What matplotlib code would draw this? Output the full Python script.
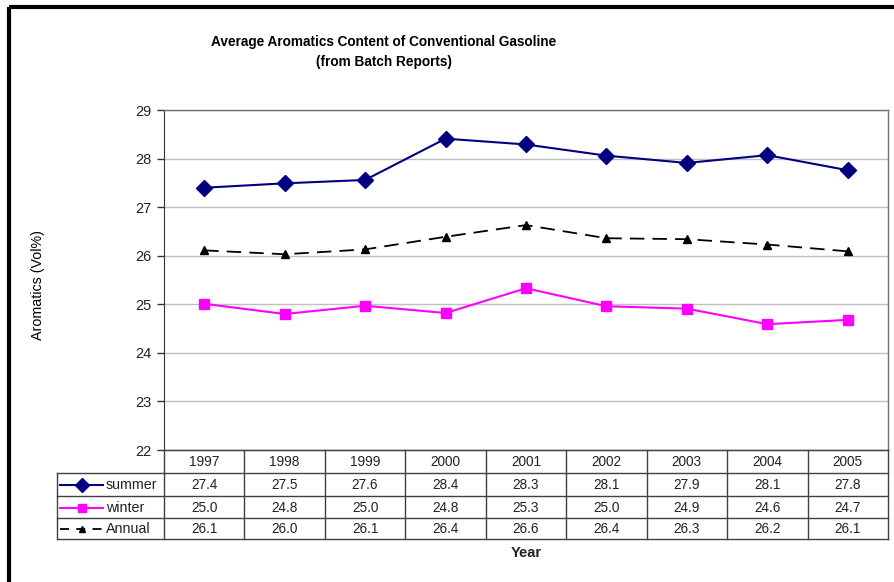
import matplotlib
matplotlib.use("Agg")
import matplotlib.pyplot as plt
from matplotlib.patches import Rectangle

# ---------------- data ----------------
years = ["1997", "1998", "1999", "2000", "2001", "2002", "2003", "2004", "2005"]
summer = [27.40, 27.49, 27.56, 28.41, 28.29, 28.06, 27.91, 28.07, 27.76]
winter = [25.01, 24.80, 24.97, 24.82, 25.33, 24.96, 24.91, 24.59, 24.68]
annual = [26.11, 26.03, 26.13, 26.39, 26.63, 26.36, 26.34, 26.23, 26.09]
series_names = ["summer", "winter", "Annual"]
y_ticks = [22, 23, 24, 25, 26, 27, 28, 29]

title = "Average Aromatics Content of Conventional Gasoline\n(from Batch Reports)"
y_label = "Aromatics (Vol%)"
x_label = "Year"

# ---------------- styles ----------------
FONT = ["Liberation Sans", "Arial", "DejaVu Sans"]
plt.rcParams["font.family"] = FONT

W, H = 894, 582
DPI = 100
styles = [
    dict(color="#000080", marker="D", ms=8, ls="-", lw=1.5),
    dict(color="#FF00FF", marker="s", ms=7.5, ls="-", lw=1.5),
    dict(color="#000000", marker="^", ms=5.5, ls=(0, (8, 4.5)), lw=1.3),
]

fig = plt.figure(figsize=(W / DPI, H / DPI), dpi=DPI)
fig.patch.set_facecolor("white")

# plot area in pixel coordinates
L, R, T, B = 164, 888, 110, 450
ax = fig.add_axes([L / W, 1 - B / H, (R - L) / W, (B - T) / H])
ax.set_facecolor("white")

xs = list(range(len(years)))
for vals, st in zip([summer, winter, annual], styles):
    ax.plot(xs, vals, color=st["color"], marker=st["marker"], markersize=st["ms"],
            linestyle=st["ls"], linewidth=st["lw"], markerfacecolor=st["color"],
            markeredgecolor=st["color"], zorder=3, clip_on=False)

ax.set_xlim(-0.5, len(years) - 0.5)
ax.set_ylim(min(y_ticks), max(y_ticks))
ax.set_yticks(y_ticks)
ax.set_yticklabels([str(t) for t in y_ticks], fontsize=10.5, color="#222222")
ax.set_xticks([])
ax.grid(axis="y", color="#c0c0c0", linewidth=1)
ax.set_axisbelow(True)
ax.tick_params(axis="y", direction="out", length=5, width=1, color="#333333", pad=4)
for side in ["top", "right"]:
    ax.spines[side].set_color("#707070")
    ax.spines[side].set_linewidth(1)
ax.spines["left"].set_color("#333333")
ax.spines["bottom"].set_color("#333333")

# overlay in pixel coordinates for table, titles and frame
ov = fig.add_axes([0, 0, 1, 1], facecolor="none")
ov.set_xlim(0, W)
ov.set_ylim(H, 0)
ov.axis("off")

# chart frame (thick black border)
ov.add_patch(Rectangle((9, 7), W + 20, H + 20, fill=False, edgecolor="black",
                       linewidth=3, clip_on=False))

# title
ov.text(384, 52, title, ha="center", va="center", fontsize=9.8, fontweight="bold",
        linespacing=1.6, color="black")
# y label
ov.text(38, 285, y_label, ha="center", va="center", rotation=90, fontsize=10.3, color="black")

# data table
col_w = (R - L) / len(years)
row_edges = [B, 473, 496, 518, 539]
legend_left = 57
lc = "#404040"
tw = 1.0
ov.plot([L, R], [row_edges[0], row_edges[0]], color=lc, lw=tw)
ov.plot([L, R], [row_edges[1], row_edges[1]], color=lc, lw=tw)
for yy in row_edges[2:]:
    ov.plot([legend_left, R], [yy, yy], color=lc, lw=tw)
ov.plot([legend_left, L], [row_edges[1], row_edges[1]], color=lc, lw=tw)
for i in range(len(years) + 1):
    xx = L + i * col_w
    ov.plot([xx, xx], [row_edges[0], row_edges[-1]], color=lc, lw=tw)
ov.plot([legend_left, legend_left], [row_edges[1], row_edges[-1]], color=lc, lw=tw)

# header row
for i, yr in enumerate(years):
    ov.text(L + (i + 0.5) * col_w, (row_edges[0] + row_edges[1]) / 2 + 0.5, yr,
            ha="center", va="center", fontsize=9.8, color="#222222")
# value rows
for r, (vals, name, st) in enumerate(zip([summer, winter, annual], series_names, styles)):
    yc = (row_edges[r + 1] + row_edges[r + 2]) / 2 + 0.5
    for i, v in enumerate(vals):
        ov.text(L + (i + 0.5) * col_w, yc, f"{v:.1f}", ha="center", va="center",
                fontsize=9.8, color="#222222")
    # legend key
    ov.plot([60, 103], [yc, yc], color=st["color"], linestyle=st["ls"] if r < 2 else (0, (5, 4)),
            linewidth=st["lw"])
    ov.plot([81.5], [yc], marker=st["marker"], markersize=st["ms"] * (0.85 if r < 2 else 0.9),
            color=st["color"], linestyle="none")
    ov.text(106, yc, name, ha="left", va="center", fontsize=10.3, color="#222222")

# x label
ov.text((L + R) / 2, 553, x_label, ha="center", va="center", fontsize=10.5,
        fontweight="bold", color="#222222")

fig.savefig("out.png", dpi=DPI, facecolor="white")
